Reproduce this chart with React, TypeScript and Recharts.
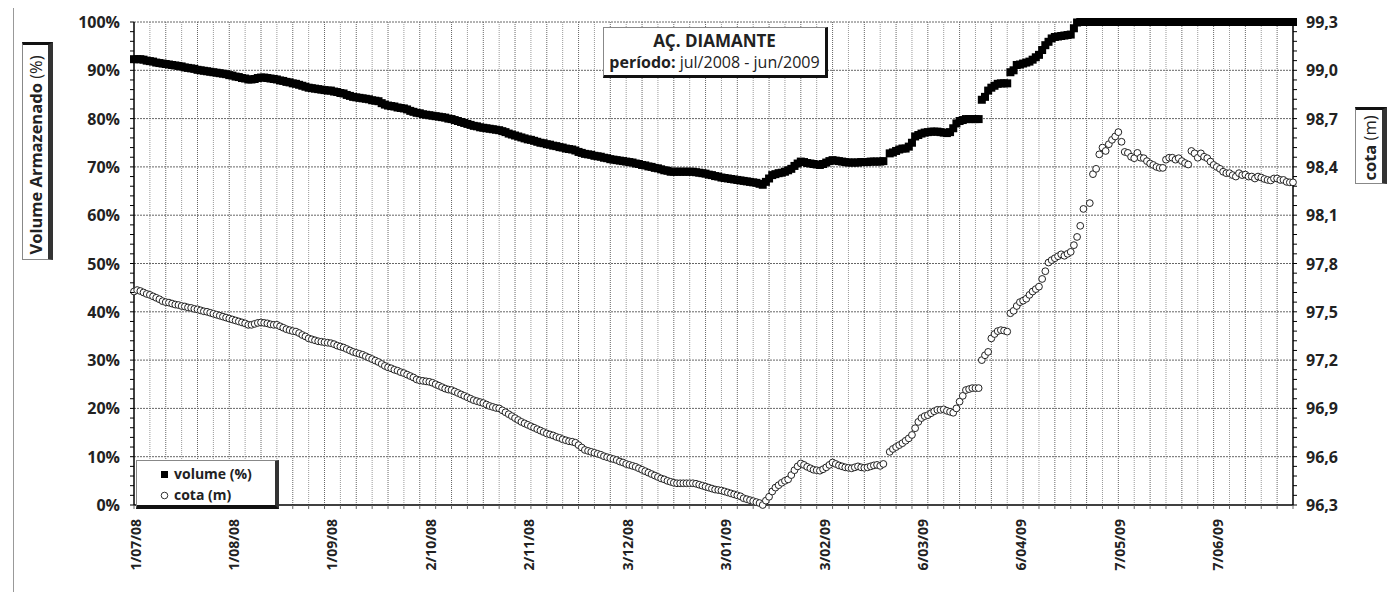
import { ComposedChart, Scatter, XAxis, YAxis, ReferenceLine } from 'recharts';

const FONT = '"Open Sans", sans-serif';

// daily readings, index = days since 1/07/08
const volume: (number | null)[] = [
  92.3, 92.3, 92.3, 92.2, 92.0, 91.9, 91.8, 91.6, 91.5, 91.4,
  91.3, 91.2, 91.1, 91.0, 90.9, 90.8, 90.6, 90.5, 90.4, 90.3,
  90.1, 90.0, 89.9, 89.8, 89.7, 89.6, 89.5, 89.4, 89.3, 89.2,
  89.0, 88.9, 88.7, 88.6, 88.4, 88.3, 88.1, 88.1, 88.2, 88.4,
  88.5, 88.5, 88.4, 88.3, 88.2, 88.1, 87.9, 87.8, 87.6, 87.5,
  87.3, 87.2, 87.0, 86.8, 86.6, 86.4, 86.3, 86.2, 86.1, 86.0,
  85.9, 85.8, 85.8, 85.6, 85.5, 85.3, 85.2, 84.9, 84.7, 84.5,
  84.4, 84.3, 84.2, 84.1, 84.0, 83.8, 83.7, 83.6, 83.2, 82.9,
  82.7, 82.6, 82.5, 82.3, 82.2, 82.1, 81.9, 81.6, 81.4, 81.2,
  81.1, 80.9, 80.8, 80.7, 80.6, 80.5, 80.4, 80.3, 80.2, 80.0,
  79.9, 79.7, 79.5, 79.3, 79.1, 78.9, 78.7, 78.5, 78.4, 78.2,
  78.1, 78.0, 77.9, 77.8, 77.7, 77.6, 77.4, 77.2, 76.9, 76.7,
  76.5, 76.3, 76.1, 75.9, 75.7, 75.6, 75.4, 75.2, 75.0, 74.9,
  74.7, 74.6, 74.4, 74.3, 74.1, 74.0, 73.8, 73.7, 73.6, 73.4,
  73.1, 72.9, 72.7, 72.6, 72.5, 72.3, 72.2, 72.1, 71.9, 71.8,
  71.6, 71.5, 71.4, 71.3, 71.2, 71.1, 71.0, 70.9, 70.7, 70.6,
  70.4, 70.3, 70.1, 70.0, 69.8, 69.7, 69.5, 69.3, 69.2, 69.0,
  69.0, 69.0, 69.0, 69.0, 69.0, 69.0, 69.0, 68.9, 68.8, 68.7,
  68.6, 68.4, 68.3, 68.1, 68.0, 67.8, 67.7, 67.6, 67.5, 67.4,
  67.3, 67.2, 67.1, 67.0, 66.9, 66.8, 66.7, 66.5, 66.3, 66.9,
  67.6, 68.3, 68.5, 68.7, 68.8, 69.0, 69.3, 69.6, 70.2, 70.7,
  71.1, 71.0, 70.8, 70.7, 70.6, 70.5, 70.4, 70.6, 70.9, 71.2,
  71.4, 71.3, 71.2, 71.1, 71.0, 70.9, 70.9, 70.9, 70.9, 71.0,
  71.0, 71.0, 71.1, 71.1, 71.1, 71.1, 71.2, null, 72.8, 73.0,
  73.3, 73.6, 73.8, 73.8, 74.2, 75.0, 76.3, 76.6, 76.9, 77.1,
  77.2, 77.3, 77.3, 77.3, 77.2, 77.1, 77.0, 77.2, 78.0, 79.0,
  79.5, 79.7, 79.9, 79.9, 79.9, 79.9, 79.9, 83.9, 84.5, 85.8,
  86.4, 86.8, 87.2, 87.3, 87.3, 87.3, 89.6, 90.0, 91.1, 91.2,
  91.4, 91.6, 91.8, 92.2, 92.7, 93.2, 94.2, 95.2, 95.9, 96.6,
  96.9, 97.0, 97.1, 97.2, 97.3, 97.4, 98.7, 99.9, 100, 100,
  100, 100, 100, 100, 100, 100, 100, 100, 100, 100,
  100, 100, 100, 100, 100, 100, 100, 100, 100, 100,
  100, 100, 100, 100, 100, 100, 100, 100, 100, 100,
  100, 100, 100, 100, 100, 100, 100, 100, 100, 100,
  100, 100, 100, 100, 100, 100, 100, 100, 100, 100,
  100, 100, 100, 100, 100, 100, 100, 100, 100, 100,
  100, 100, 100, 100, 100, 100,
];

const cota: (number | null)[] = [
  97.626, 97.635, 97.629, 97.620, 97.611, 97.605, 97.596, 97.587, 97.578, 97.566,
  97.560, 97.557, 97.551, 97.545, 97.542, 97.536, 97.533, 97.527, 97.524, 97.518,
  97.515, 97.509, 97.503, 97.500, 97.494, 97.488, 97.482, 97.476, 97.470, 97.464,
  97.458, 97.452, 97.446, 97.440, 97.434, 97.428, 97.419, 97.419, 97.425, 97.431,
  97.434, 97.431, 97.428, 97.422, 97.419, 97.419, 97.410, 97.401, 97.392, 97.386,
  97.380, 97.377, 97.368, 97.356, 97.347, 97.335, 97.329, 97.323, 97.317, 97.314,
  97.311, 97.308, 97.305, 97.299, 97.290, 97.284, 97.278, 97.269, 97.260, 97.251,
  97.245, 97.239, 97.233, 97.224, 97.215, 97.206, 97.197, 97.188, 97.176, 97.164,
  97.155, 97.149, 97.140, 97.134, 97.125, 97.119, 97.110, 97.101, 97.092, 97.080,
  97.074, 97.071, 97.068, 97.065, 97.059, 97.050, 97.041, 97.032, 97.023, 97.017,
  97.014, 97.005, 96.996, 96.987, 96.978, 96.969, 96.960, 96.951, 96.945, 96.939,
  96.933, 96.924, 96.915, 96.909, 96.903, 96.900, 96.888, 96.876, 96.864, 96.852,
  96.840, 96.828, 96.816, 96.807, 96.798, 96.789, 96.780, 96.771, 96.762, 96.753,
  96.744, 96.738, 96.732, 96.723, 96.717, 96.708, 96.702, 96.696, 96.693, 96.687,
  96.672, 96.657, 96.642, 96.636, 96.630, 96.624, 96.618, 96.612, 96.603, 96.597,
  96.591, 96.585, 96.579, 96.570, 96.564, 96.555, 96.549, 96.543, 96.537, 96.528,
  96.519, 96.510, 96.501, 96.492, 96.483, 96.474, 96.465, 96.459, 96.450, 96.444,
  96.438, 96.435, 96.435, 96.435, 96.435, 96.435, 96.435, 96.432, 96.426, 96.420,
  96.414, 96.408, 96.402, 96.396, 96.393, 96.390, 96.384, 96.378, 96.372, 96.366,
  96.360, 96.354, 96.342, 96.336, 96.330, 96.324, 96.318, 96.312, 96.300, 96.327,
  96.351, 96.384, 96.408, 96.423, 96.438, 96.450, 96.459, 96.486, 96.516, 96.540,
  96.558, 96.549, 96.537, 96.528, 96.519, 96.516, 96.513, 96.522, 96.534, 96.549,
  96.564, 96.555, 96.546, 96.540, 96.534, 96.531, 96.528, 96.534, 96.540, 96.534,
  96.531, 96.534, 96.540, 96.546, 96.549, 96.543, 96.555, null, 96.630, 96.648,
  96.660, 96.672, 96.684, 96.699, 96.714, 96.735, 96.777, 96.816, 96.840, 96.852,
  96.858, 96.870, 96.882, 96.891, 96.891, 96.894, 96.885, 96.879, 96.873, 96.900,
  96.942, 96.978, 97.014, 97.020, 97.026, 97.026, 97.026, 97.200, 97.230, 97.251,
  97.335, 97.362, 97.380, 97.386, 97.383, 97.377, 97.491, 97.506, 97.536, 97.560,
  97.569, 97.581, 97.605, 97.626, 97.641, 97.656, 97.704, 97.752, 97.806, 97.821,
  97.833, 97.845, 97.857, 97.848, 97.860, 97.872, 97.914, 97.965, 98.034, 98.139,
  null, 98.175, 98.355, 98.388, 98.478, 98.520, 98.499, 98.541, 98.568, 98.589,
  98.616, 98.556, 98.493, 98.487, 98.463, 98.454, 98.487, 98.457, 98.454, 98.436,
  98.421, 98.412, 98.400, 98.394, 98.394, 98.445, 98.457, 98.457, 98.445, 98.454,
  98.436, 98.424, 98.415, 98.499, 98.484, 98.457, 98.484, 98.463, 98.454, 98.433,
  98.412, 98.400, 98.388, 98.370, 98.361, 98.361, 98.349, 98.340, 98.361, 98.349,
  98.352, 98.340, 98.340, 98.328, 98.340, 98.334, 98.325, 98.319, 98.316, 98.328,
  98.328, 98.319, 98.319, 98.307, 98.304, 98.304,
];

const labelDays = [0, 31, 62, 93, 124, 155, 186, 217, 248, 279, 310, 341];
const labelTexts = ['1/07/08', '1/08/08', '1/09/08', '2/10/08', '2/11/08', '3/12/08', '3/01/09', '3/02/09', '6/03/09', '6/04/09', '7/05/09', '7/06/09'];
const gridDays = Array.from({ length: 74 }, (_, i) => i * 5);
const volTicks = Array.from({ length: 51 }, (_, i) => i * 2);
const cotaTicks = Array.from({ length: 51 }, (_, i) => Math.round((96.3 + i * 0.06) * 100) / 100);

const rows = volume.map((v, day) => ({ day, v, c: cota[day] }));
const volRows = rows.filter((r) => r.v !== null);
const cotaRows = rows.filter((r) => r.c !== null);
const xTicks = Array.from(new Set([...gridDays, ...labelDays])).sort((a, b) => a - b);

const yTickText = { fontFamily: FONT, fontSize: 16, fontWeight: 700, fill: '#222' };
const xTickText = { fontFamily: FONT, fontSize: 14, fontWeight: 700, fill: '#222' };

const LeftTick = ({ x, y, payload }: any) => (
  <g>
    <line x1={x - 4} x2={x} y1={y} y2={y} stroke="#000" />
    {payload.value % 10 === 0 && (
      <text x={x - 14} y={y} textAnchor="end" dominantBaseline="central" {...yTickText}>
        {payload.value}%
      </text>
    )}
  </g>
);

const RightTick = ({ x, y, payload }: any) => {
  const major = Math.round((payload.value - 96.3) / 0.06) % 5 === 0;
  return (
    <g>
      <line x1={x} x2={x + 4} y1={y} y2={y} stroke="#000" />
      {major && (
        <text x={x + 13} y={y} textAnchor="start" dominantBaseline="central" {...yTickText}>
          {payload.value.toFixed(1).replace('.', ',')}
        </text>
      )}
    </g>
  );
};

const BottomTick = ({ x, y, payload }: any) => {
  const idx = labelDays.indexOf(payload.value);
  const onGrid = payload.value % 5 === 0;
  return (
    <g>
      {onGrid && <line x1={x} x2={x} y1={y} y2={y + 4} stroke="#666" />}
      {idx >= 0 && (
        <text
          x={0}
          y={0}
          transform={`translate(${x + 1},${y + 14}) rotate(-90)`}
          textAnchor="end"
          dominantBaseline="central"
          {...xTickText}
        >
          {labelTexts[idx]}
        </text>
      )}
    </g>
  );
};

const Square = ({ cx, cy }: any) => <rect x={cx - 4} y={cy - 4} width={8} height={8} fill="#000" />;
const Ring = ({ cx, cy }: any) => <circle cx={cx} cy={cy} r={3.4} fill="#fff" stroke="#222" strokeWidth={1} />;

const box = (extra: React.CSSProperties): React.CSSProperties => ({
  position: 'absolute',
  background: '#fff',
  boxSizing: 'border-box',
  borderLeft: '1px solid #888',
  borderTop: '1px solid #888',
  borderRight: '3px solid #111',
  borderBottom: '3px solid #111',
  fontFamily: FONT,
  color: '#222',
  ...extra,
});

export default function App() {
  return (
    <div style={{ position: 'relative', width: 1380, height: 584 }}>
      <div style={{ position: 'absolute', left: 5, top: -4, width: 1381, height: 594, borderLeft: '1px solid #999', borderTop: '1px solid #999' }} />
      <ComposedChart width={1380} height={584} margin={{ top: 14, right: 35, bottom: 7, left: 70 }}>
        <XAxis
          type="number"
          dataKey="day"
          domain={[0, 365]}
          ticks={xTicks}
          interval={0}
          tickSize={0}
          tickMargin={0}
          tickLine={false}
          height={80}
          tick={BottomTick}
          axisLine={{ stroke: '#000', strokeWidth: 1.5 }}
        />
        <YAxis
          yAxisId="left"
          orientation="left"
          domain={[0, 100]}
          ticks={volTicks}
          interval={0}
          tickSize={0}
          tickMargin={0}
          tickLine={false}
          width={56}
          tick={LeftTick}
          axisLine={{ stroke: '#000', strokeWidth: 1.5 }}
        />
        <YAxis
          yAxisId="right"
          orientation="right"
          domain={[96.3, 99.3]}
          ticks={cotaTicks}
          interval={0}
          tickSize={0}
          tickMargin={0}
          tickLine={false}
          width={60}
          tick={RightTick}
          axisLine={{ stroke: '#000', strokeWidth: 1.5 }}
        />
        {gridDays.filter((d) => d > 0 && d < 365).map((d) => (
          <ReferenceLine
            key={'gx' + d}
            x={d}
            yAxisId="left"
            stroke={d % 10 === 0 ? '#666' : '#999'}
            strokeDasharray="1 1"
          />
        ))}
        {[10, 20, 30, 40, 50, 60, 70, 80, 90, 100].map((v) => (
          <ReferenceLine key={'gy' + v} y={v} yAxisId="left" stroke="#666" strokeDasharray="2 1" />
        ))}
        <Scatter data={cotaRows} dataKey="c" yAxisId="right" shape={Ring} isAnimationActive={false} />
        <Scatter data={volRows} dataKey="v" yAxisId="left" shape={Square} isAnimationActive={false} />
      </ComposedChart>

      {/* title */}
      <div style={box({ left: 595, top: 19, width: 225, height: 51, textAlign: 'center', paddingTop: 1 })}>
        <div style={{ fontWeight: 700, fontSize: 17, lineHeight: '23px' }}>AÇ. DIAMANTE</div>
        <div style={{ fontSize: 16, lineHeight: '21px', whiteSpace: 'nowrap' }}>
          <b>período:</b> jul/2008 - jun/2009
        </div>
      </div>

      {/* left axis title */}
      <div
        style={box({
          left: 14,
          top: 34,
          width: 31,
          height: 218,
          borderTop: '3px solid #111',
          borderBottom: '1px solid #888',
          borderRight: '5px solid #333',
        })}
      >
        <div
          style={{
            position: 'absolute',
            left: 12,
            top: 110,
            transform: 'translate(-50%, -50%) rotate(-90deg)',
            whiteSpace: 'nowrap',
            fontSize: 16.5,
          }}
        >
          <b>Volume Armazenado</b> (%)
        </div>
      </div>

      {/* right axis title */}
      <div
        style={box({
          left: 1347,
          top: 99,
          width: 32,
          height: 77,
          borderTop: '3px solid #111',
          borderBottom: '1px solid #888',
          borderRight: '5px solid #333',
        })}
      >
        <div
          style={{
            position: 'absolute',
            left: 13,
            top: 38,
            transform: 'translate(-50%, -50%) rotate(-90deg)',
            whiteSpace: 'nowrap',
            fontSize: 16.5,
          }}
        >
          <b>cota</b> (m)
        </div>
      </div>

      {/* legend */}
      <div style={box({ left: 128, top: 452, width: 143, height: 49, borderRight: '4px solid #333', borderBottom: '4px solid #111' })}>
        <div style={{ position: 'absolute', left: 23, top: 3, fontSize: 14, fontWeight: 700, whiteSpace: 'nowrap', display: 'flex', alignItems: 'center' }}>
          <svg width={10} height={10} style={{ marginRight: 4 }}>
            <rect x={1} y={2} width={7} height={7} fill="#000" />
          </svg>
          volume (%)
        </div>
        <div style={{ position: 'absolute', left: 23, top: 24, fontSize: 14, fontWeight: 700, whiteSpace: 'nowrap', display: 'flex', alignItems: 'center' }}>
          <svg width={10} height={10} style={{ marginRight: 4 }}>
            <circle cx={4.5} cy={5.5} r={3.3} fill="#fff" stroke="#333" />
          </svg>
          cota (m)
        </div>
      </div>
    </div>
  );
}
